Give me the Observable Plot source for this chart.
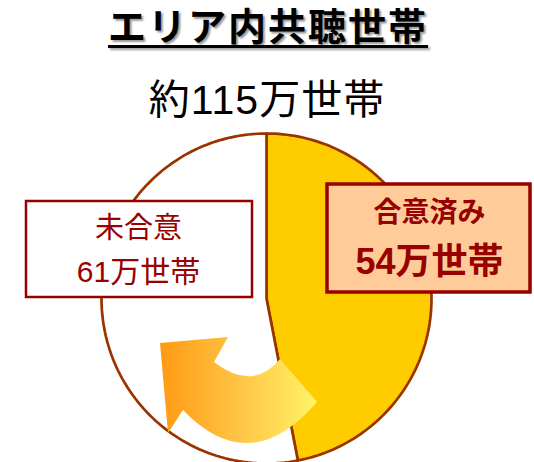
<!DOCTYPE html>
<html><head><meta charset="utf-8">
<script src="https://cdn.jsdelivr.net/npm/d3@7"></script>
<script src="https://cdn.jsdelivr.net/npm/@observablehq/plot@0.6"></script>
<style>
body{margin:0;background:#fff;}
#wrap{position:relative;width:534px;height:462px;overflow:hidden;font-family:"Liberation Sans","Noto Sans CJK JP",sans-serif;}
#title{position:absolute;left:0;top:4px;width:534px;text-align:center;font-size:38px;font-weight:bold;line-height:46px;color:#000;}
#title span{text-decoration:underline;text-decoration-thickness:3px;text-underline-offset:5px;text-shadow:2px 2px 2px #9a9a9a;letter-spacing:2px;padding-left:2px;}
#subtitle{position:absolute;left:0;top:76px;width:534px;text-align:center;font-size:41px;line-height:48px;color:#000;letter-spacing:1px;}
#chart{position:absolute;left:0;top:120px;}
</style></head>
<body>
<div id="wrap">
  <div id="title"><span></span></div>
  <div id="subtitle"></div>
  <div id="chart"></div>
</div>
<script>
// ---- data ----
const titleText = "エリア内共聴世帯";
const categories = ["合意済み", "未合意"];
const values = [54, 61];
const unit = "万世帯";
const sliceColors = ["#FFCC00", "#FFFFFF"];

// ---- layout ----
const W = 534, TOP = 120, H = 462 - TOP;
const cx = 266, cy = 298, R = 165;
const DARKRED = "#990000", BROWN = "#993300";
const FONT = "'Liberation Sans', 'Noto Sans CJK JP', sans-serif";

const total = d3.sum(values);
document.querySelector("#title span").textContent = titleText;
document.getElementById("subtitle").textContent = `約${total}${unit}`;

const rows = categories.map((c, i) => ({cat: c, value: values[i], color: sliceColors[i]}));
const arcs = d3.pie().sort(null).value(d => d.value)(rows);
const piePts = [];
for (const a of arcs) {
  const n = 120;
  piePts.push({cat: a.data.cat, color: a.data.color, x: cx, y: cy});
  for (let i = 0; i <= n; i++) {
    const t = a.startAngle + (a.endAngle - a.startAngle) * i / n;
    piePts.push({cat: a.data.cat, color: a.data.color, x: cx + R * Math.sin(t), y: cy - R * Math.cos(t)});
  }
  piePts.push({cat: a.data.cat, color: a.data.color, x: cx, y: cy});
}

// label boxes (layout)
const boxes = [
  {cat: categories[0], x1: 327, x2: 530, y1: 184, y2: 292, fill: "#FFCC99", sw: 3.5},
  {cat: categories[1], x1: 26, x2: 252, y1: 201, y2: 297, fill: "#FFFFFF", sw: 2.5}
];
const agreedLabels = [
  {text: categories[0], x: 429, y: 213, size: 28},
  {text: values[0] + unit, x: 429, y: 262, size: 36}
];
const pendingLabels = [
  {text: categories[1], x: 138, y: 228, size: 29},
  {text: values[1] + unit, x: 138, y: 272, size: 30}
];

// curved arrow decoration (page coords)
function arrowMark(index, scales) {
  const X = scales.x, Y = scales.y;
  const g = d3.create("svg:g");
  const grad = g.append("defs").append("linearGradient").attr("id", "arrowGrad")
    .attr("x1", "0").attr("x2", "1").attr("y1", "0").attr("y2", "0");
  grad.append("stop").attr("offset", "0").attr("stop-color", "#FF9A12");
  grad.append("stop").attr("offset", "0.5").attr("stop-color", "#FFC445");
  grad.append("stop").attr("offset", "1").attr("stop-color", "#FFF466");
  const p = d3.path();
  p.moveTo(X(280), Y(359));
  p.quadraticCurveTo(X(253), Y(392), X(214), Y(362));
  p.lineTo(X(228), Y(337));
  p.lineTo(X(160), Y(343));
  p.lineTo(X(168), Y(433));
  p.lineTo(X(183), Y(410));
  p.quadraticCurveTo(X(250), Y(480), X(317), Y(402));
  p.closePath();
  g.append("path").attr("d", p.toString()).attr("fill", "url(#arrowGrad)");
  return g.node();
}

const chart = Plot.plot({
  width: W, height: H,
  margin: 0,
  x: {domain: [0, W], range: [0, W], axis: null},
  y: {domain: [TOP, TOP + H], range: [0, H], axis: null},
  color: {type: "identity"},
  style: {background: "transparent", fontFamily: FONT},
  marks: [
    Plot.line(piePts, {x: "x", y: "y", z: "cat", fill: "color", stroke: BROWN, strokeWidth: 2.7, strokeLinejoin: "round", curve: "linear"}),
    arrowMark,
    Plot.rect(boxes, {x1: "x1", x2: "x2", y1: "y1", y2: "y2", fill: "fill", stroke: DARKRED, strokeWidth: "sw"}),
    Plot.text(agreedLabels, {x: "x", y: "y", text: "text", fontSize: "size", fontWeight: "bold", fill: DARKRED, fontFamily: FONT}),
    Plot.text(pendingLabels, {x: "x", y: "y", text: "text", fontSize: "size", fontWeight: "normal", fill: DARKRED, fontFamily: FONT})
  ]
});
document.getElementById("chart").appendChild(chart);
</script>
</body></html>
